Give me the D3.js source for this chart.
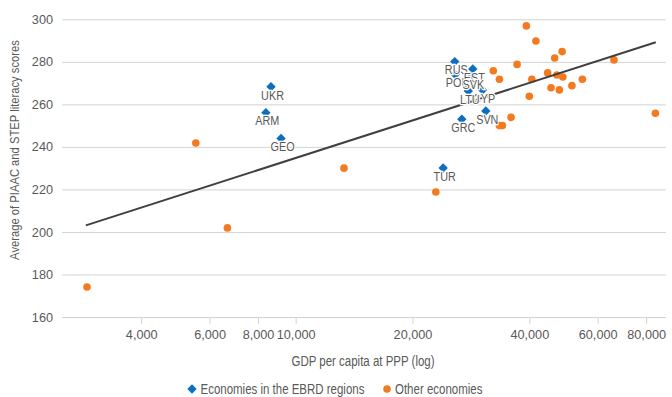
<!DOCTYPE html>
<html>
<head>
<meta charset="utf-8">
<script src="https://cdn.jsdelivr.net/npm/d3@7"></script>
<style>
body { margin: 0; background: #fff; }
</style>
</head>
<body>
<div id="chart"></div>
<script>
// EBRD economies: code, GDP per capita (PPP), literacy score
var ebrdCodes = ["UKR", "ARM", "GEO", "TUR", "CYP", "POL", "RUS", "EST", "SVK", "LTU", "SVN", "GRC"];
var ebrdGdp = [8640, 8380, 9170, 23990, 30300, 25760, 25700, 28600, 28430, 27860, 30900, 26800];
var ebrdScore = [268.3, 256.1, 244.0, 230.1, 266.7, 274.0, 280.1, 276.6, 273.1, 266.3, 256.9, 253.0];

// other economies (no labels)
var otherGdp = [2900, 5530, 6670, 13320, 22970, 39300, 41600, 48600, 46500, 37200, 66100, 32300, 33500,
    40600, 44600, 47100, 48800, 54800, 45500, 47800, 51500, 40000, 35900, 33500, 34100, 84500];
var otherScore = [174.1, 241.8, 201.9, 230.0, 218.8, 296.9, 289.8, 284.8, 281.8, 278.8, 280.9, 275.8, 271.8,
    271.8, 274.8, 273.8, 272.9, 271.8, 267.8, 266.8, 268.8, 263.8, 253.9, 250.0, 250.0, 255.8];

// trend line ends
var trendGdp = [2880, 84700];
var trendScore = [203.1, 289.2];

var xTicks = [4000, 6000, 8000, 10000, 20000, 40000, 60000, 80000];
var yTicks = [160, 180, 200, 220, 240, 260, 280, 300];
var legendLabels = ["Economies in the EBRD regions", "Other economies"];

var blue = "#0a6fc2";
var orange = "#f47a20";
var grey = "#595959";
var squeeze = 0.82;   // no narrow font installed, so squash the regular one

var width = 672, height = 397;
var svg = d3.select("#chart").append("svg")
    .attr("width", width)
    .attr("height", height)
    .style("font-family", "'Liberation Sans', Arial, sans-serif");

var x = d3.scaleLog().domain([2500, 90000]).range([62, 666]);
var y = d3.scaleLinear().domain([160, 300]).range([317, 19.3]);

function narrowAt(tx, ty, extra){
    return "translate(" + tx + "," + ty + ")" + (extra || "") + " scale(" + squeeze + ",1)";
}

// gridlines + y labels
var yAxis = svg.append("g")
    .attr("transform", "translate(62,0)")
    .call(d3.axisLeft(y).tickValues(yTicks).tickSize(-604).tickPadding(9));
yAxis.select(".domain").remove();
yAxis.selectAll("line").attr("stroke", "#d3d3d3");
yAxis.selectAll("text").attr("fill", grey).style("font-size", "12.7px").style("font-family", "'Liberation Sans', Arial, sans-serif");

// x axis
var xAxis = svg.append("g")
    .attr("transform", "translate(0,317)")
    .call(d3.axisBottom(x).tickValues(xTicks).tickFormat(d3.format(",")).tickSize(7).tickPadding(6));
xAxis.select(".domain").attr("stroke", "#d3d3d3").attr("d", "M62,0.5H666");
xAxis.selectAll("line").attr("stroke", "#d3d3d3");
xAxis.selectAll("text").attr("fill", grey).style("font-size", "12.7px").style("font-family", "'Liberation Sans', Arial, sans-serif");

// axis titles
svg.append("text")
    .attr("transform", narrowAt(363, 366))
    .attr("text-anchor", "middle")
    .attr("fill", grey)
    .style("font-size", "14px")
    .text("GDP per capita at PPP (log)");

svg.append("text")
    .attr("transform", narrowAt(19, 150, " rotate(-90)"))
    .attr("text-anchor", "middle")
    .attr("fill", grey)
    .style("font-size", "13.7px")
    .text("Average of PIAAC and STEP literacy scores");

// other economies
svg.append("g").selectAll("circle")
    .data(otherGdp)
    .enter()
    .append("circle")
    .attr("cx", function(d){ return x(d); })
    .attr("cy", function(d, i){ return y(otherScore[i]); })
    .attr("r", 3.8)
    .attr("fill", orange);

// trend line
svg.append("line")
    .attr("x1", x(trendGdp[0])).attr("y1", y(trendScore[0]))
    .attr("x2", x(trendGdp[1])).attr("y2", y(trendScore[1]))
    .attr("stroke", "#404040")
    .attr("stroke-width", 2);

// EBRD diamonds
var diamond = d3.symbol().type(d3.symbolSquare).size(44);
svg.append("g").selectAll("path")
    .data(ebrdGdp)
    .enter()
    .append("path")
    .attr("d", diamond)
    .attr("fill", blue)
    .attr("transform", function(d, i){
        return "translate(" + x(d) + "," + y(ebrdScore[i]) + ") rotate(45)";
    });

// labels (white halo like the excel data labels)
svg.append("g").selectAll("text")
    .data(ebrdCodes)
    .enter()
    .append("text")
    .attr("transform", function(d, i){
        return narrowAt(x(ebrdGdp[i]) + 1.5, y(ebrdScore[i]) + 12.8);
    })
    .attr("text-anchor", "middle")
    .attr("fill", grey)
    .attr("stroke", "#fff")
    .attr("stroke-width", 2.5)
    .attr("paint-order", "stroke")
    .style("font-size", "13.2px")
    .text(function(d){ return d; });

// legend
var lg = svg.append("g").style("font-size", "14px");
lg.append("path")
    .attr("d", diamond)
    .attr("fill", blue)
    .attr("transform", "translate(192,389) rotate(45)");
lg.append("text").attr("transform", narrowAt(200.5, 394)).attr("fill", grey).text(legendLabels[0]);
lg.append("circle").attr("cx", 387).attr("cy", 389).attr("r", 3.8).attr("fill", orange);
lg.append("text").attr("transform", narrowAt(395, 394)).attr("fill", grey).text(legendLabels[1]);
</script>
</body>
</html>
